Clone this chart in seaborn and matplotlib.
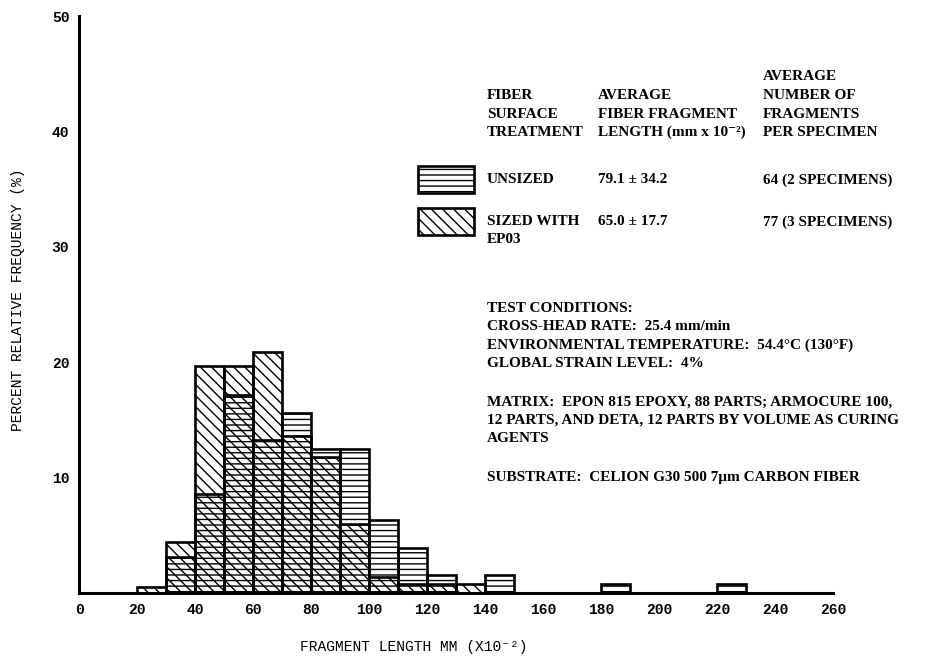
import matplotlib
matplotlib.use("Agg")
import matplotlib.pyplot as plt
from matplotlib.patches import Rectangle
import pandas as pd
import seaborn as sns

sns.set_theme(style="white")
plt.rcParams["hatch.linewidth"] = 1.0
plt.rcParams["hatch.color"] = "black"

# histogram data, percent relative frequency per 10-unit bin
BIN_EDGES = list(range(20, 240, 10))
BIN_LEFT = list(range(20, 230, 10))
UNSIZED = [0.0, 3.1, 8.6, 17.2, 13.3, 15.6, 12.5, 12.5, 6.3, 3.9, 1.6,
           0.0, 1.6, 0.0, 0.0, 0.0, 0.8, 0.0, 0.0, 0.0, 0.8]
SIZED = [0.5, 4.4, 19.7, 19.7, 20.9, 13.6, 11.8, 6.0, 1.4, 0.8, 0.8,
         0.8, 0.0, 0.0, 0.0, 0.0, 0.0, 0.0, 0.0, 0.0, 0.0]

X_TICKS = list(range(0, 261, 20))
Y_TICKS = [10, 20, 30, 40, 50]

HEADERS = [
    ["", "", "AVERAGE"],
    ["FIBER", "AVERAGE", "NUMBER OF"],
    ["SURFACE", "FIBER FRAGMENT", "FRAGMENTS"],
    ["TREATMENT", "LENGTH (mm x 10\u207b\u00b2)", "PER SPECIMEN"],
]
ROWS = [
    ["UNSIZED", "79.1 \u00b1 34.2", "64 (2 SPECIMENS)"],
    ["SIZED WITH", "65.0 \u00b1 17.7", "77 (3 SPECIMENS)"],
]
NOTES = [
    (308, "TEST CONDITIONS:"),
    (326, "CROSS-HEAD RATE:  25.4 mm/min"),
    (345, "ENVIRONMENTAL TEMPERATURE:  54.4\u00b0C (130\u00b0F)"),
    (363, "GLOBAL STRAIN LEVEL:  4%"),
    (402, "MATRIX:  EPON 815 EPOXY, 88 PARTS; ARMOCURE 100,"),
    (420, "12 PARTS, AND DETA, 12 PARTS BY VOLUME AS CURING"),
    (438, "AGENTS"),
    (477, "SUBSTRATE:  CELION G30 500 7\u03bcm CARBON FIBER"),
]

W, H = 947, 663
SERIF = ["Liberation Serif", "DejaVu Serif"]
MONO = ["Liberation Mono", "DejaVu Sans Mono"]

df = pd.DataFrame({
    "length": [b + 5 for b in BIN_LEFT] * 2,
    "pct": UNSIZED + SIZED,
    "treatment": ["unsized"] * len(BIN_LEFT) + ["sized"] * len(BIN_LEFT),
})

fig = plt.figure(figsize=(W / 100, H / 100), dpi=100)
ax = fig.add_axes([79 / W, 1 - 593 / H, 754 / W, 577 / H])

for name, hatch in [("unsized", "---"), ("sized", "\\\\\\")]:
    n0 = len(ax.patches)
    sns.histplot(data=df[df.treatment == name], x="length", weights="pct",
                 bins=BIN_EDGES, fill=True, facecolor="none", edgecolor="black",
                 linewidth=1.9, ax=ax)
    for patch in ax.patches[n0:]:
        patch.set_hatch(hatch)
        patch.set_facecolor("none")

ax.set_xlim(0, 260)
ax.set_ylim(0, 50)
ax.set_xticks(X_TICKS)
ax.set_yticks(Y_TICKS)
ax.set_xlabel("")
ax.set_ylabel("")
for s in ["top", "right"]:
    ax.spines[s].set_visible(False)
for s in ["left", "bottom"]:
    ax.spines[s].set_linewidth(2.2)
    ax.spines[s].set_color("black")
ax.tick_params(direction="inout", length=8, width=1.6, color="black", pad=3)
for lab in ax.get_xticklabels() + ax.get_yticklabels():
    lab.set_family(MONO)
    lab.set_fontsize(10.5)
    lab.set_fontweight("bold")
    lab.set_color("black")


def put(x, y, s, **kw):
    fig.text(x / W, 1 - y / H, s, va="center", ha="left", **kw)


fig.text(18 / W, 1 - 300 / H, "PERCENT RELATIVE FREQUENCY (%)", rotation=90,
         va="center", ha="center", family=MONO, fontsize=10.5, color="black")
fig.text(414 / W, 1 - 647 / H, "FRAGMENT LENGTH MM (X10\u207b\u00b2)",
         va="center", ha="center", family=MONO, fontsize=10.5, color="black")

cols = [487, 598, 763]
for i, row in enumerate(HEADERS):
    for x, s in zip(cols, row):
        put(x, 77 + 18.5 * i, s, family=SERIF, fontsize=11, fontweight="bold", color="black")
for y, row in zip([180, 222], ROWS):
    for x, s in zip(cols, row):
        put(x, y, s, family=SERIF, fontsize=11, fontweight="bold", color="black")
put(cols[0], 239, "EP03", family=SERIF, fontsize=11, fontweight="bold", color="black")

for y, hatch in [(166, "---"), (208, "\\\\\\")]:
    fig.add_artist(Rectangle((418 / W, 1 - (y + 27) / H), 56 / W, 27 / H,
                             transform=fig.transFigure, facecolor="none",
                             edgecolor="black", linewidth=1.9, hatch=hatch))

for y, s in NOTES:
    put(cols[0], y, s, family=SERIF, fontsize=11, fontweight="bold", color="black")

fig.savefig("out.png", dpi=100)
